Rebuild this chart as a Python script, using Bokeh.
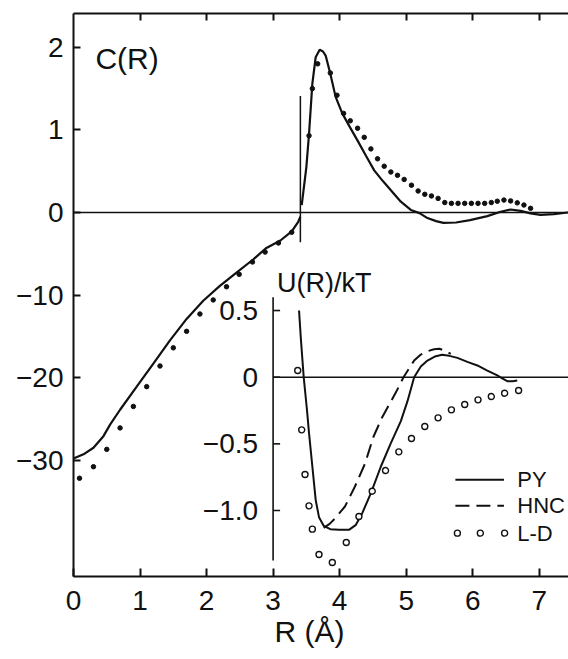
import numpy as np
from bokeh.plotting import figure
from bokeh.models import Range1d, LinearAxis, FixedTicker, Span, Label, Title
from bokeh.core.properties import value
from bokeh.embed import file_html
from bokeh.resources import INLINE

FONT = "Liberation Sans"

# ---------------- data: C(R) ----------------
# PY, inside the hard core (R < 3.41 A)
PY_C_IN_R = [0.0, 0.15, 0.30, 0.45, 0.55, 0.70, 0.95, 1.20, 1.45, 1.70, 1.95, 2.20, 2.45, 2.70, 2.90,
             3.11, 3.28, 3.38, 3.41]
PY_C_IN = [-29.8, -29.3, -28.5, -27.1, -25.7, -23.9, -21.1, -18.3, -15.5, -12.9, -10.7, -8.9, -7.3, -5.7, -4.3,
           -3.4, -2.3, -1.1, -0.5]
# PY, outside the hard core
PY_C_OUT_R = [3.43, 3.50, 3.54, 3.59, 3.64, 3.70, 3.75, 3.79, 3.86, 3.94, 4.04, 4.15, 4.27, 4.40,
              4.52, 4.65, 4.77, 4.92, 5.07, 5.20, 5.32, 5.45, 5.56, 5.75, 5.96, 6.22, 6.42, 6.57,
              6.72, 6.87, 7.02, 7.22, 7.44]
PY_C_OUT = [0.09, 0.55, 0.95, 1.56, 1.88, 1.97, 1.95, 1.90, 1.68, 1.40, 1.20, 1.04, 0.87, 0.68,
            0.51, 0.38, 0.27, 0.13, 0.03, -0.08, -0.68, -1.05, -1.26, -1.22, -0.93, -0.45, 0.008, 0.036,
            0.019, -0.12, -0.30, -0.20, 0.0]
# L-D (dots)
LD_C_R = [0.09, 0.30, 0.50, 0.70, 0.90, 1.10, 1.30, 1.50, 1.70, 1.90, 2.10, 2.30, 2.49, 2.69, 2.88,
          3.08, 3.28,
          3.54, 3.59, 3.67, 3.86, 3.96, 4.06, 4.16, 4.27, 4.37, 4.47, 4.57, 4.67, 4.77, 4.87, 4.97,
          5.08, 5.18, 5.28, 5.38, 5.48, 5.58, 5.68, 5.78, 5.88, 5.98, 6.08, 6.18, 6.28, 6.37, 6.47,
          6.57, 6.67, 6.77, 6.87]
LD_C = [-32.2, -30.8, -28.7, -26.1, -23.5, -21.1, -18.6, -16.4, -14.4, -12.3, -10.6, -9.0, -7.5, -6.0, -4.8,
        -3.7, -2.4,
        0.93, 1.50, 1.80, 1.69, 1.42, 1.20, 1.11, 1.02, 0.91, 0.77, 0.65, 0.56, 0.49, 0.45, 0.40,
        0.33, 0.26, 0.22, 0.20, 0.17, 0.12, 0.11, 0.11, 0.11, 0.11, 0.11, 0.11, 0.12, 0.136, 0.15,
        0.14, 0.116, 0.09, 0.05]
HARD_CORE_R = 3.41
HARD_CORE_C = [1.41, -3.6]

C_TICK_VALUES = [-30, -20, -10, 0, 1, 2]
C_TICK_LABELS = ["\u221230", "\u221220", "\u221210", "0", "1", "2"]
R_TICKS = [0, 1, 2, 3, 4, 5, 6, 7]

# ---------------- data: U(R)/kT ----------------
PY_U_R = [3.39, 3.42, 3.46, 3.51, 3.54, 3.59, 3.64, 3.69, 3.76, 3.86, 3.99, 4.14, 4.24, 4.34, 4.47,
          4.62, 4.77, 4.92, 5.02, 5.12, 5.22, 5.32, 5.43, 5.54, 5.65, 5.77, 5.92, 6.07, 6.22, 6.37,
          6.45, 6.52, 6.60, 6.67]
PY_U = [0.50, 0.27, 0.0, -0.25, -0.42, -0.67, -0.92, -1.05, -1.115, -1.14, -1.145, -1.145, -1.11, -1.02, -0.87,
        -0.67, -0.495, -0.33, -0.18, 0.0, 0.08, 0.125, 0.155, 0.168, 0.16, 0.145, 0.115, 0.088, 0.05, 0.013,
        -0.01, -0.03, -0.03, -0.025]
HNC_U_R = [3.76, 3.85, 3.93, 4.08, 4.23, 4.38, 4.51, 4.64, 4.74, 4.85, 4.96, 5.12, 5.22, 5.32, 5.42,
           5.50, 5.58, 5.67]
HNC_U = [-1.13, -1.10, -1.06, -0.97, -0.82, -0.65, -0.445, -0.30, -0.21, -0.11, 0.0, 0.125, 0.17, 0.195, 0.21,
         0.213, 0.20, 0.175]
LD_U_R = [3.37, 3.43, 3.48, 3.54, 3.59, 3.69, 3.89, 4.10, 4.29, 4.49, 4.69, 4.89, 5.08, 5.28, 5.48,
          5.68, 5.88, 6.08, 6.28, 6.48, 6.69]
LD_U = [0.05, -0.395, -0.73, -0.965, -1.14, -1.33, -1.39, -1.24, -1.045, -0.855, -0.70, -0.56, -0.46, -0.37, -0.305,
        -0.245, -0.205, -0.17, -0.145, -0.12, -0.10]

U_TICKS = [0.5, 0.0, -0.5, -1.0]
U_TICK_LABELS = ["0.5", "0", "\u22120.5", "\u22121.0"]
LEGEND_LABELS = ["PY", "HNC", "L-D"]


def ytr(c):
    """Broken C(R) scale: linear above 0, compressed x1/10 below 0."""
    c = np.asarray(c, dtype=float)
    return np.where(c >= 0, c, c / 10.0)


X_MAX = 7.44
INK = "#111111"

p = figure(width=568, height=659, x_range=Range1d(0, X_MAX), y_range=Range1d(-4.41, 2.41),
           output_backend="svg", toolbar_location=None,
           x_axis_location=None, y_axis_location=None,
           min_border_left=73, min_border_right=0, min_border_top=13, min_border_bottom=83)
p.xgrid.visible = False
p.ygrid.visible = False
p.outline_line_color = None
p.background_fill_color = "white"
p.extra_y_ranges = {"u": Range1d(-1.495, 2.728)}


def style_axis(ax, tick_len):
    ax.axis_line_width = 2
    ax.axis_line_color = INK
    ax.major_tick_in = tick_len
    ax.major_tick_out = 0
    ax.major_tick_line_width = 2
    ax.major_tick_line_color = INK
    ax.minor_tick_line_color = None
    ax.major_label_text_font = FONT
    ax.major_label_text_font_size = "28px"
    ax.major_label_text_color = INK


left = LinearAxis(ticker=FixedTicker(ticks=[float(t) for t in ytr(C_TICK_VALUES)]),
                  major_label_overrides={float(t): lab for t, lab in zip(ytr(C_TICK_VALUES), C_TICK_LABELS)})
style_axis(left, 7)
left.major_label_standoff = 10
p.add_layout(left, "left")

bottom = LinearAxis(ticker=FixedTicker(ticks=R_TICKS))
style_axis(bottom, 8)
bottom.major_label_standoff = 14
p.add_layout(bottom, "below")

# top frame edge with inward ticks, no labels
top = LinearAxis(ticker=FixedTicker(ticks=R_TICKS[1:]),
                 major_label_overrides={float(t): "" for t in R_TICKS[1:]})
style_axis(top, 7)
top.major_label_standoff = 0
p.add_layout(top, "above")

xlabel = Title(text="R (\u00c5)", align="left", offset=201, text_font=FONT, text_font_size="30px",
               text_font_style="normal", text_color=INK, standoff=0)
p.add_layout(xlabel, "below")

# ---- main panel ----
p.add_layout(Span(location=0, dimension="width", line_color=INK, line_width=1.5))
p.line(PY_C_IN_R, ytr(PY_C_IN), line_color=INK, line_width=2.2)
p.line(PY_C_OUT_R, ytr(PY_C_OUT), line_color=INK, line_width=2.2)
p.scatter(LD_C_R, ytr(LD_C), size=4.5, color=INK)
p.segment(x0=[HARD_CORE_R], y0=[float(ytr(HARD_CORE_C[0]))], x1=[HARD_CORE_R], y1=[float(ytr(HARD_CORE_C[1]))],
          line_color=INK, line_width=1.5)
p.add_layout(Label(x=0.33, y=1.86, text="C(R)", text_font=FONT, text_font_size="30px",
                   text_color=INK, text_baseline="alphabetic"))

# ---- inset panel: U(R)/kT ----
INSET_X = 3.0
p.segment(x0=[INSET_X], y0=[-1.375], x1=[INSET_X], y1=[0.6], y_range_name="u", line_color=INK, line_width=1.6)
p.ray(x=[INSET_X] * len(U_TICKS), y=U_TICKS, length=7, length_units="screen", angle=0,
      y_range_name="u", line_color=INK, line_width=1.6)
p.text(x=[INSET_X] * len(U_TICKS), y=U_TICKS, text=U_TICK_LABELS, y_range_name="u",
       x_offset=-15, text_align="right", text_baseline="middle",
       text_font=value(FONT), text_font_size="28px", text_color=INK)
p.segment(x0=[INSET_X], y0=[0.0], x1=[X_MAX], y1=[0.0], y_range_name="u", line_color=INK, line_width=1.5)
p.line(PY_U_R, PY_U, y_range_name="u", line_color=INK, line_width=2)
p.line(HNC_U_R, HNC_U, y_range_name="u", line_color=INK, line_width=2, line_dash="14 7")
p.scatter(LD_U_R, LD_U, y_range_name="u", marker="circle", size=6, fill_color="white",
          line_color=INK, line_width=1.4)
p.add_layout(Label(x=3.06, y=0.71, y_range_name="u", text="U(R)/kT", text_font=FONT,
                   text_font_size="27px", text_color=INK, text_baseline="alphabetic"))

# ---- legend (drawn in inset coordinates) ----
LEG_X0, LEG_X1, LEG_TX = 5.74, 6.47, 6.67
LEG_Y = [-0.77, -0.965, -1.17]
p.line([LEG_X0, LEG_X1], [LEG_Y[0]] * 2, y_range_name="u", line_color=INK, line_width=2)
p.line([LEG_X0, LEG_X1], [LEG_Y[1]] * 2, y_range_name="u", line_color=INK, line_width=2, line_dash="14 7")
p.scatter([LEG_X0 + 0.03, (LEG_X0 + LEG_X1) / 2 + 0.01, LEG_X1 + 0.01], [LEG_Y[2]] * 3, y_range_name="u",
          marker="circle", size=6, fill_color="white", line_color=INK, line_width=1.4)
p.text(x=[LEG_TX] * 3, y=LEG_Y, text=LEGEND_LABELS, y_range_name="u",
       text_align="left", text_baseline="middle",
       text_font=value(FONT), text_font_size="22px", text_color=INK)

open("out.html", "w").write(file_html(p, INLINE))
